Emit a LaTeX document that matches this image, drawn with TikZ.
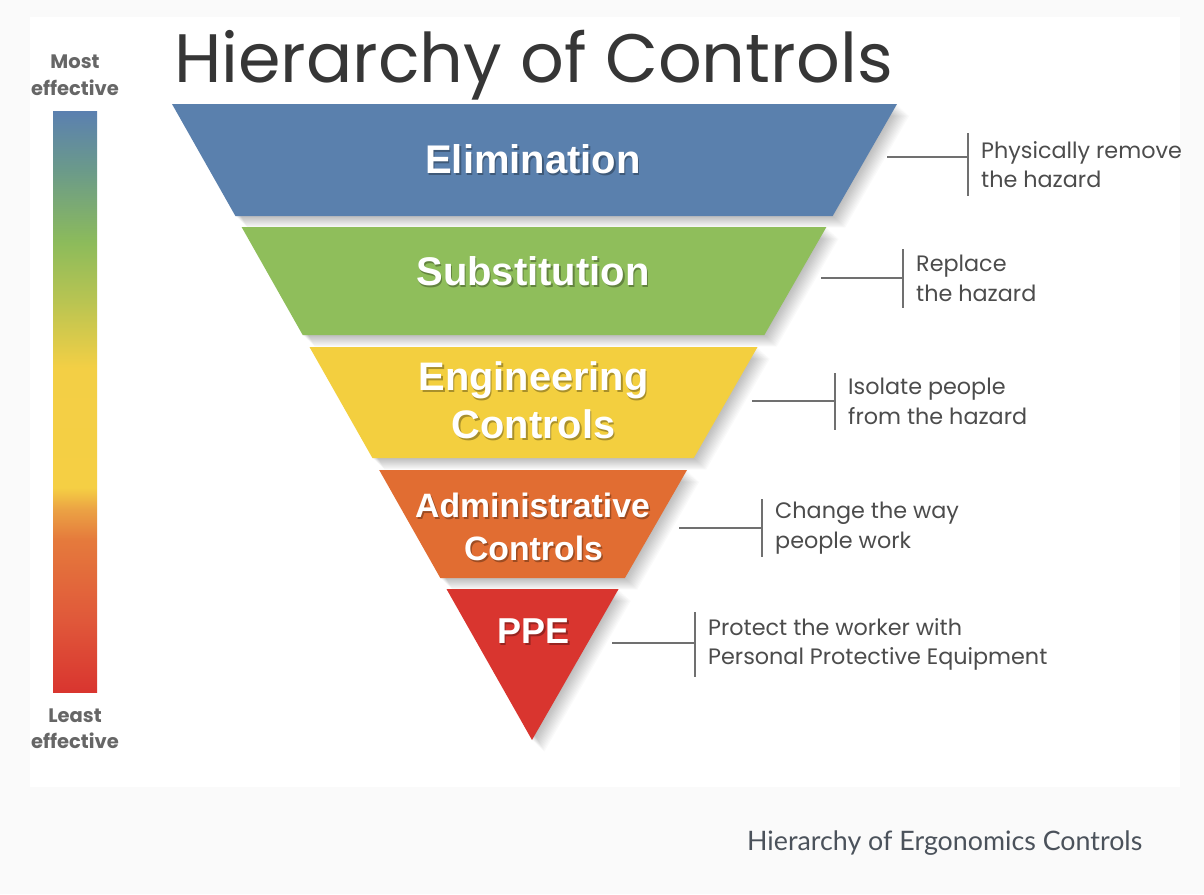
\documentclass[tikz,border=0pt]{standalone}
\usepackage{fontspec}
\setmainfont{Poppins}
\newfontfamily\bandfont{Liberation Sans}
\newfontfamily\descfont{Poppins}
\newfontfamily\capfont{Lato}
\usetikzlibrary{calc}
\definecolor{bgpage}{HTML}{FAFAFA}
\definecolor{cBlue}{HTML}{5A80AD}
\definecolor{cGreen}{HTML}{8FBE5B}
\definecolor{cYellow}{HTML}{F3CF3F}
\definecolor{cOrange}{HTML}{E16D32}
\definecolor{cRed}{HTML}{D9352F}
\definecolor{txtgray}{HTML}{4C4C4C}
\definecolor{lblgray}{HTML}{666666}
\definecolor{titlegray}{HTML}{363636}
\definecolor{capgray}{HTML}{4B525B}
\definecolor{linegray}{HTML}{707070}
\definecolor{gA}{HTML}{D9352F}
\definecolor{gB}{HTML}{E0583A}
\definecolor{gC}{HTML}{E57A3C}
\definecolor{gD}{HTML}{EBA244}
\definecolor{gE}{HTML}{F5CF44}
\definecolor{gF}{HTML}{F3CF45}
\definecolor{gG}{HTML}{B8C452}
\definecolor{gH}{HTML}{8CBB5B}
\definecolor{gI}{HTML}{6B9A8A}
\definecolor{gJ}{HTML}{5B80B0}
\pgfdeclareverticalshading{effbar}{100bp}{color(0bp)=(gA); color(25bp)=(gA); color(31.2bp)=(gB); color(38.1bp)=(gC); color(40.7bp)=(gD); color(42.6bp)=(gE); color(52.9bp)=(gF); color(58.7bp)=(gG); color(63.7bp)=(gH); color(69.9bp)=(gI); color(75bp)=(gJ); color(100bp)=(gJ)}
\tikzset{
  bandlabel/.style={text=white, inner sep=0pt, anchor=base},
  bandshade/.style={text=black, opacity=0.3, inner sep=0pt, anchor=base},
  desc/.style={anchor=west, align=left, inner sep=0pt, text=txtgray, font=\descfont\fontsize{22.3}{29.5}\selectfont},
  sidelbl/.style={anchor=base, inner sep=0pt, text=lblgray, font=\descfont\bfseries\fontsize{19.5}{23}\selectfont},
  conn/.style={draw=linegray, line width=1.5pt},
}
\newcommand\bigband{\bandfont\bfseries\fontsize{40}{46}\selectfont}
\newcommand\midband{\bandfont\bfseries\fontsize{39.8}{46}\selectfont}
\newcommand\smallband{\bandfont\bfseries\fontsize{33.8}{40}\selectfont}
\newcommand\ppeband{\bandfont\bfseries\fontsize{36}{40}\selectfont}
\begin{document}
\begin{tikzpicture}[x=1pt,y=-1pt]
\useasboundingbox (0,0) rectangle (1204,894);
\fill[bgpage] (0,0) rectangle (1204,894);
\fill[white] (30,17) rectangle (1180,787);
% shadows
\foreach \ya/\yb/\xa/\xb/\xc/\xd in {104/216/172/897/832.7/235.4, 227/335/241.6/826.4/764.4/302.7, 347/458/309.5/757.5/693.8/372.4, 470/578/379.2/687.0/624.9/440.3, 589/740/446.5/618.6/532/532}{
  \foreach \k in {1,...,13}{
    \fill[black, opacity=0.021] ($(\xa,\ya)+(0.95*\k,0.9*\k)$) -- ($(\xb,\ya)+(0.95*\k,0.9*\k)$) -- ($(\xc,\yb)+(0.95*\k,0.9*\k)$) -- ($(\xd,\yb)+(0.95*\k,0.9*\k)$) -- cycle;
  }
}
% bands
\fill[cBlue] (172,104) -- (897,104) -- (832.7,216) -- (235.4,216) -- cycle;
\fill[cGreen] (241.6,227) -- (826.4,227) -- (764.4,335) -- (302.7,335) -- cycle;
\fill[cYellow] (309.5,347) -- (757.5,347) -- (693.8,458) -- (372.4,458) -- cycle;
\fill[cOrange] (379.2,470) -- (687.0,470) -- (624.9,578) -- (440.3,578) -- cycle;
\fill[cRed] (446.5,589) -- (618.6,589) -- (532,740) -- cycle;
% band labels
\node[bandshade, font=\bigband] (s1) at (534.5,175) {Elimination};
\node[bandlabel, font=\bigband] (l1) at (533,173) {Elimination};
\node[bandshade, font=\bigband] (s2) at (534.5,287) {Substitution};
\node[bandlabel, font=\bigband] (l2) at (533,285) {Substitution};
\node[bandshade, font=\midband] (s3a) at (535,392) {Engineering};
\node[bandlabel, font=\midband] (l3a) at (533.5,390) {Engineering};
\node[bandshade, font=\midband] (s3b) at (535,440) {Controls};
\node[bandlabel, font=\midband] (l3b) at (533.5,438) {Controls};
\node[bandshade, font=\smallband] (s4a) at (534,519) {Administrative};
\node[bandlabel, font=\smallband] (l4a) at (532.5,517) {Administrative};
\node[bandshade, font=\smallband] (s4b) at (535,562) {Controls};
\node[bandlabel, font=\smallband] (l4b) at (533.5,560) {Controls};
\node[bandshade, font=\ppeband] (s5) at (535,645) {PPE};
\node[bandlabel, font=\ppeband] (l5) at (533.5,643) {PPE};
% title
\node[anchor=base west, inner sep=0pt, text=titlegray, font=\fontsize{68.5}{74}\selectfont] (title) at (174,82) {Hierarchy of Controls};
% gradient bar
\shade[shading=effbar] (53,111) rectangle (97,692);
\node[sidelbl] (most) at (75,68) {Most};
\node[sidelbl] (eff1) at (75,95) {effective};
\node[sidelbl] (least) at (75,722) {Least};
\node[sidelbl] (eff2) at (75,748) {effective};
% connectors and descriptions
\foreach \i/\sx/\ly/\bx/\bt/\bb/\txt in {
  1/887/157/968/133/196/{Physically remove\\the hazard},
  2/821/278/903/249/308/{Replace\\the hazard},
  3/752/401/835/373/430/{Isolate people\\from the hazard},
  4/679/528/762/499/557/{Change the way\\people work},
  5/612/643/695/612/677/{Protect the worker with\\Personal Protective Equipment}}{
  \coordinate (st\i) at (\sx,\ly);
  \coordinate (bt\i) at (\bx,\bt);
  \coordinate (bb\i) at (\bx,\bb);
  \node[desc] (d\i) at ($(\bx+13,0.5*\bt+0.5*\bb)$) {\txt};
  \draw[conn] (st\i) -- (st\i -| bt\i);
  \draw[conn] (bt\i) -- (bb\i);
}
% caption
\node[anchor=base west, inner sep=0pt, text=capgray, font=\capfont\fontsize{26.8}{30}\selectfont] (caption) at (747,850) {Hierarchy of Ergonomics Controls};
\end{tikzpicture}
\end{document}
